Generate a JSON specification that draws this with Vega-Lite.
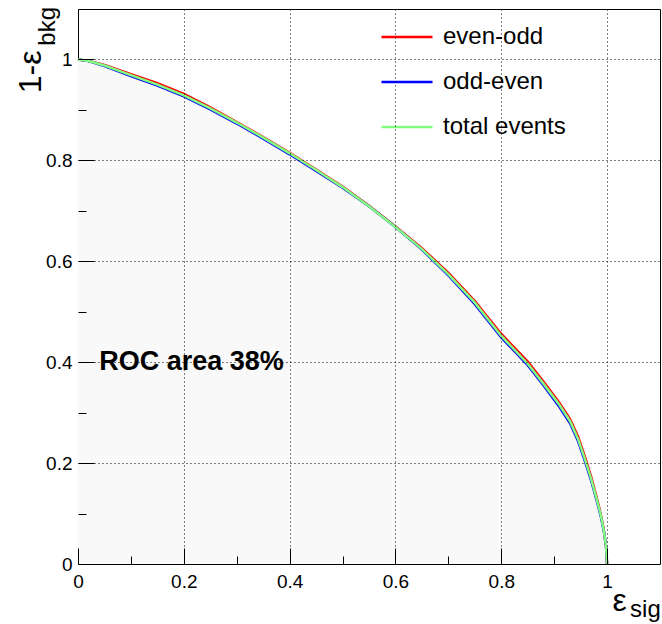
{
  "$schema": "https://vega.github.io/schema/vega-lite/v6.json",
  "width": 582,
  "height": 555,
  "autosize": {"type": "none"},
  "padding": {"left": 78, "top": 9, "right": 2, "bottom": 60},
  "background": "white",
  "config": {
    "view": {"stroke": "#000", "strokeWidth": 1},
    "font": "Liberation Sans"
  },
  "datasets": {
    "curves": [
      {"series": "even-odd", "x": 0, "y": 1.0},
      {"series": "even-odd", "x": 0.02, "y": 0.997},
      {"series": "even-odd", "x": 0.05, "y": 0.989},
      {"series": "even-odd", "x": 0.1, "y": 0.971},
      {"series": "even-odd", "x": 0.15, "y": 0.953},
      {"series": "even-odd", "x": 0.2, "y": 0.932},
      {"series": "even-odd", "x": 0.25, "y": 0.905},
      {"series": "even-odd", "x": 0.3, "y": 0.876},
      {"series": "even-odd", "x": 0.35, "y": 0.846},
      {"series": "even-odd", "x": 0.4, "y": 0.815},
      {"series": "even-odd", "x": 0.45, "y": 0.782},
      {"series": "even-odd", "x": 0.5, "y": 0.748},
      {"series": "even-odd", "x": 0.55, "y": 0.71},
      {"series": "even-odd", "x": 0.6, "y": 0.669},
      {"series": "even-odd", "x": 0.65, "y": 0.626},
      {"series": "even-odd", "x": 0.7, "y": 0.577},
      {"series": "even-odd", "x": 0.75, "y": 0.521},
      {"series": "even-odd", "x": 0.8, "y": 0.456},
      {"series": "even-odd", "x": 0.85, "y": 0.401},
      {"series": "even-odd", "x": 0.88, "y": 0.361},
      {"series": "even-odd", "x": 0.91, "y": 0.319},
      {"series": "even-odd", "x": 0.93, "y": 0.287},
      {"series": "even-odd", "x": 0.945, "y": 0.253},
      {"series": "even-odd", "x": 0.958, "y": 0.213},
      {"series": "even-odd", "x": 0.97, "y": 0.172},
      {"series": "even-odd", "x": 0.98, "y": 0.133},
      {"series": "even-odd", "x": 0.988, "y": 0.099},
      {"series": "even-odd", "x": 0.994, "y": 0.066},
      {"series": "even-odd", "x": 0.998, "y": 0.035},
      {"series": "even-odd", "x": 1.0, "y": 0.0},
      {"series": "odd-even", "x": 0, "y": 1.0},
      {"series": "odd-even", "x": 0.02, "y": 0.997},
      {"series": "odd-even", "x": 0.05, "y": 0.987},
      {"series": "odd-even", "x": 0.1, "y": 0.967},
      {"series": "odd-even", "x": 0.15, "y": 0.948},
      {"series": "odd-even", "x": 0.2, "y": 0.927},
      {"series": "odd-even", "x": 0.25, "y": 0.901},
      {"series": "odd-even", "x": 0.3, "y": 0.873},
      {"series": "odd-even", "x": 0.35, "y": 0.843},
      {"series": "odd-even", "x": 0.4, "y": 0.812},
      {"series": "odd-even", "x": 0.45, "y": 0.779},
      {"series": "odd-even", "x": 0.5, "y": 0.746},
      {"series": "odd-even", "x": 0.55, "y": 0.709},
      {"series": "odd-even", "x": 0.6, "y": 0.668},
      {"series": "odd-even", "x": 0.65, "y": 0.623},
      {"series": "odd-even", "x": 0.7, "y": 0.572},
      {"series": "odd-even", "x": 0.75, "y": 0.515},
      {"series": "odd-even", "x": 0.8, "y": 0.449},
      {"series": "odd-even", "x": 0.85, "y": 0.394},
      {"series": "odd-even", "x": 0.88, "y": 0.354},
      {"series": "odd-even", "x": 0.91, "y": 0.311},
      {"series": "odd-even", "x": 0.93, "y": 0.279},
      {"series": "odd-even", "x": 0.945, "y": 0.244},
      {"series": "odd-even", "x": 0.958, "y": 0.204},
      {"series": "odd-even", "x": 0.97, "y": 0.165},
      {"series": "odd-even", "x": 0.98, "y": 0.127},
      {"series": "odd-even", "x": 0.988, "y": 0.095},
      {"series": "odd-even", "x": 0.994, "y": 0.064},
      {"series": "odd-even", "x": 0.998, "y": 0.035},
      {"series": "odd-even", "x": 1.0, "y": 0.0},
      {"series": "total events", "x": 0, "y": 1.0},
      {"series": "total events", "x": 0.02, "y": 0.997},
      {"series": "total events", "x": 0.05, "y": 0.988},
      {"series": "total events", "x": 0.1, "y": 0.969},
      {"series": "total events", "x": 0.15, "y": 0.95},
      {"series": "total events", "x": 0.2, "y": 0.929},
      {"series": "total events", "x": 0.25, "y": 0.903},
      {"series": "total events", "x": 0.3, "y": 0.875},
      {"series": "total events", "x": 0.35, "y": 0.845},
      {"series": "total events", "x": 0.4, "y": 0.814},
      {"series": "total events", "x": 0.45, "y": 0.781},
      {"series": "total events", "x": 0.5, "y": 0.747},
      {"series": "total events", "x": 0.55, "y": 0.709},
      {"series": "total events", "x": 0.6, "y": 0.668},
      {"series": "total events", "x": 0.65, "y": 0.624},
      {"series": "total events", "x": 0.7, "y": 0.574},
      {"series": "total events", "x": 0.75, "y": 0.518},
      {"series": "total events", "x": 0.8, "y": 0.452},
      {"series": "total events", "x": 0.85, "y": 0.397},
      {"series": "total events", "x": 0.88, "y": 0.357},
      {"series": "total events", "x": 0.91, "y": 0.315},
      {"series": "total events", "x": 0.93, "y": 0.283},
      {"series": "total events", "x": 0.945, "y": 0.248},
      {"series": "total events", "x": 0.958, "y": 0.208},
      {"series": "total events", "x": 0.97, "y": 0.168},
      {"series": "total events", "x": 0.98, "y": 0.13},
      {"series": "total events", "x": 0.988, "y": 0.097},
      {"series": "total events", "x": 0.994, "y": 0.065},
      {"series": "total events", "x": 0.998, "y": 0.035},
      {"series": "total events", "x": 1.0, "y": 0.0}
    ]
  },
  "layer": [
    {
      "data": {"name": "curves"},
      "transform": [{"filter": "datum.series === 'total events'"}],
      "mark": {"type": "area", "fill": "#f9f9f9", "opacity": 1},
      "encoding": {
        "x": {
          "field": "x", "type": "quantitative",
          "scale": {"domain": [0, 1.1], "nice": false, "zero": false},
          "axis": {
            "orient": "bottom",
            "values": [0, 0.05, 0.1, 0.15, 0.2, 0.25, 0.3, 0.35, 0.4, 0.45, 0.5, 0.55, 0.6, 0.65, 0.7, 0.75, 0.8, 0.85, 0.9, 0.95, 1, 1.05],
            "zindex": 1,
            "domain": false,
            "ticks": true,
            "tickColor": "#000",
            "tickWidth": 1,
            "tickSize": {"condition": {"test": "abs(datum.value*5 - round(datum.value*5)) < 0.001", "value": -16}, "value": -8},
            "labelExpr": "abs(datum.value*5 - round(datum.value*5)) < 0.001 ? format(datum.value, '~g') : ''",
            "labelFont": "Liberation Sans",
            "labelFontSize": 19,
            "labelColor": "#000",
            "labelAlign": "center",
            "labelBaseline": "top",
            "labelPadding": 24,
            "labelFlush": false,
            "labelOverlap": false,
            "grid": true,
            "gridColor": "#000",
            "gridDash": [1, 3],
            "gridWidth": 1,
            "gridOpacity": {"condition": {"test": "abs(datum.value*5 - round(datum.value*5)) < 0.001 && datum.value > 0.01", "value": 1}, "value": 0},
            "title": "ε",
            "titleFont": "Liberation Sans",
            "titleFontSize": 32,
            "titleFontWeight": "normal",
            "titleColor": "#000",
            "titleX": 534,
            "titleY": 46,
            "titleAlign": "left",
            "titleBaseline": "alphabetic",
            "titleAngle": 0
          }
        },
        "y": {
          "field": "y", "type": "quantitative",
          "scale": {"domain": [0, 1.1], "nice": false, "zero": false},
          "axis": {
            "orient": "left",
            "values": [0, 0.05, 0.1, 0.15, 0.2, 0.25, 0.3, 0.35, 0.4, 0.45, 0.5, 0.55, 0.6, 0.65, 0.7, 0.75, 0.8, 0.85, 0.9, 0.95, 1, 1.05],
            "zindex": 1,
            "domain": false,
            "ticks": true,
            "tickColor": "#000",
            "tickWidth": 1,
            "tickSize": {"condition": {"test": "abs(datum.value*5 - round(datum.value*5)) < 0.001", "value": -16}, "value": -8},
            "labelExpr": "abs(datum.value*5 - round(datum.value*5)) < 0.001 ? format(datum.value, '~g') : ''",
            "labelFont": "Liberation Sans",
            "labelFontSize": 19,
            "labelColor": "#000",
            "labelAlign": "right",
            "labelBaseline": "middle",
            "labelPadding": 22,
            "labelFlush": false,
            "labelOverlap": false,
            "grid": true,
            "gridColor": "#000",
            "gridDash": [1, 3],
            "gridWidth": 1,
            "gridOpacity": {"condition": {"test": "abs(datum.value*5 - round(datum.value*5)) < 0.001 && datum.value > 0.01", "value": 1}, "value": 0},
            "title": "1-ε",
            "titleFont": "Liberation Sans",
            "titleFontSize": 32,
            "titleFontWeight": "normal",
            "titleColor": "#000",
            "titleX": -38,
            "titleY": 41,
            "titleAlign": "right",
            "titleBaseline": "alphabetic",
            "titleAngle": 270
          }
        }
      }
    },
    {
      "data": {"name": "curves"},
      "mark": {"type": "line", "interpolate": "linear"},
      "encoding": {
        "x": {"field": "x", "type": "quantitative"},
        "y": {"field": "y", "type": "quantitative"},
        "color": {
          "field": "series", "type": "nominal",
          "scale": {"domain": ["even-odd", "odd-even", "total events"], "range": ["#ff0000", "#0000ff", "#80ff80"]},
          "legend": {
            "orient": "none",
            "legendX": 302,
            "legendY": 1,
            "title": null,
            "symbolType": "stroke",
            "symbolSize": 2601,
            "labelFont": "Liberation Sans",
            "labelFontSize": 24,
            "labelColor": "#000",
            "labelOffset": 9,
            "rowPadding": 6,
            "labelLimit": 300
          }
        },
        "strokeWidth": {
          "field": "series", "type": "nominal",
          "scale": {"domain": ["even-odd", "odd-even", "total events"], "range": [2.5, 2.5, 1.5]},
          "legend": null
        },
        "order": {"field": "x", "type": "quantitative"}
      }
    },
    {
      "data": {"values": [{"label": "ROC area 38%", "x": 0.04, "y": 0.4}]},
      "mark": {"type": "text", "align": "left", "baseline": "middle", "font": "Liberation Sans", "fontWeight": "bold", "fontSize": 27, "color": "#000"},
      "encoding": {
        "x": {"field": "x", "type": "quantitative"},
        "y": {"field": "y", "type": "quantitative"},
        "text": {"field": "label"}
      }
    },
    {
      "data": {"values": [{"t": "sig", "x": 1.0, "y": 0}]},
      "mark": {"type": "text", "align": "left", "baseline": "alphabetic", "font": "Liberation Sans", "fontSize": 24, "color": "#000", "dx": 23, "dy": 53},
      "encoding": {
        "x": {"field": "x", "type": "quantitative"},
        "y": {"field": "y", "type": "quantitative"},
        "text": {"field": "t"}
      }
    },
    {
      "data": {"values": [{"t": "bkg", "x": 0, "y": 1.1}]},
      "mark": {"type": "text", "align": "right", "baseline": "alphabetic", "angle": 270, "font": "Liberation Sans", "fontSize": 24, "color": "#000", "dx": 2, "dy": -23},
      "encoding": {
        "x": {"field": "x", "type": "quantitative"},
        "y": {"field": "y", "type": "quantitative"},
        "text": {"field": "t"}
      }
    }
  ]
}
